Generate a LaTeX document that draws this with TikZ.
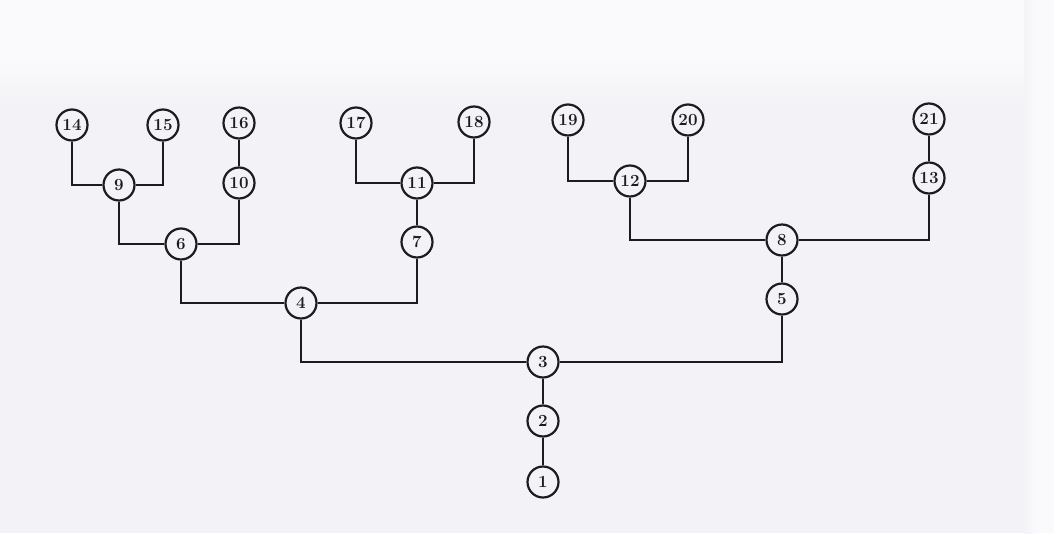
\documentclass[tikz,border=0pt]{standalone}
\usepackage{xcolor}
\definecolor{paper}{RGB}{243,242,246}
\definecolor{paperlight}{RGB}{250,249,251}
\definecolor{ink}{RGB}{28,28,30}
\begin{document}
\begin{tikzpicture}[x=1pt,y=-1pt,
  nd/.style={circle,draw=ink,line width=2.2pt,fill=paper,minimum size=31pt,inner sep=0pt,
    font=\fontsize{17}{17}\selectfont\bfseries,text=ink},
  conn/.style={draw=ink,line width=2.2pt}]
\useasboundingbox (0,0) rectangle (1054,533);
\fill[paper] (0,0) rectangle (1054,533);
\fill[paperlight] (0,0) rectangle (1054,60);
\shade[top color=paperlight,bottom color=paper] (0,60) rectangle (1054,105);
\shade[left color=paper,right color=paperlight] (1024,0) rectangle (1036,533);
\fill[paperlight] (1036,0) rectangle (1054,533);
% nodes
\node[nd] (n1) at (543,482) {1};
\node[nd] (n2) at (543,421) {2};
\node[nd] (n3) at (543,362) {3};
\node[nd] (n4) at (301,303) {4};
\node[nd] (n5) at (782,299) {5};
\node[nd] (n6) at (181,244) {6};
\node[nd] (n7) at (417,242) {7};
\node[nd] (n8) at (782,240) {8};
\node[nd] (n9) at (119,185) {9};
\node[nd] (n10) at (239,183) {10};
\node[nd] (n11) at (417,183) {11};
\node[nd] (n12) at (630,181) {12};
\node[nd] (n13) at (929,178) {13};
\node[nd] (n14) at (72,125) {14};
\node[nd] (n15) at (163,125) {15};
\node[nd] (n16) at (239,123) {16};
\node[nd] (n17) at (356,123) {17};
\node[nd] (n18) at (474,122) {18};
\node[nd] (n19) at (568,120) {19};
\node[nd] (n20) at (688,120) {20};
\node[nd] (n21) at (929,119) {21};
% connectors
\draw[conn] (n9) -| (n14);
\draw[conn] (n9) -| (n15);
\draw[conn] (n10) -- (n16);
\draw[conn] (n6) -| (n9);
\draw[conn] (n6) -| (n10);
\draw[conn] (n11) -| (n17);
\draw[conn] (n11) -| (n18);
\draw[conn] (n11) -- (n7);
\draw[conn] (n4) -| (n6);
\draw[conn] (n4) -| (n7);
\draw[conn] (n12) -| (n19);
\draw[conn] (n12) -| (n20);
\draw[conn] (n13) -- (n21);
\draw[conn] (n8) -| (n12);
\draw[conn] (n8) -| (n13);
\draw[conn] (n8) -- (n5);
\draw[conn] (n3) -| (n4);
\draw[conn] (n3) -| (n5);
\draw[conn] (n3) -- (n2);
\draw[conn] (n2) -- (n1);
\end{tikzpicture}
\end{document}
